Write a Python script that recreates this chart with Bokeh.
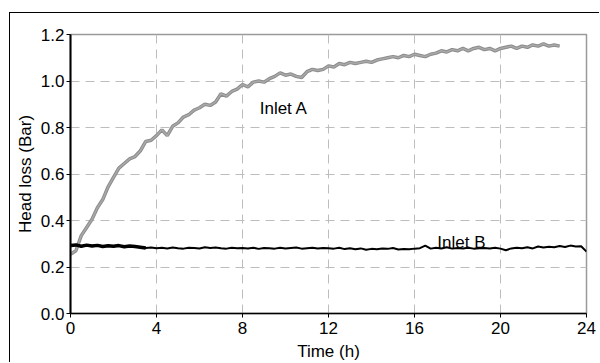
import numpy as np
from bokeh.plotting import figure
from bokeh.models import Range1d, Label, FixedTicker, NumeralTickFormatter, ColumnDataSource
from bokeh.embed import file_html
from bokeh.resources import INLINE

# ---- data ----
step_h = 0.25
inlet_a = [
    0.255, 0.270, 0.335, 0.370, 0.405, 0.455, 0.490, 0.545,
    0.585, 0.625, 0.645, 0.665, 0.675, 0.700, 0.740, 0.745,
    0.765, 0.790, 0.765, 0.805, 0.820, 0.845, 0.855, 0.875,
    0.885, 0.900, 0.895, 0.910, 0.945, 0.935, 0.955, 0.965,
    0.985, 0.975, 0.995, 1.000, 0.995, 1.010, 1.020, 1.035,
    1.025, 1.030, 1.020, 1.015, 1.040, 1.050, 1.045, 1.050,
    1.065, 1.060, 1.075, 1.070, 1.080, 1.075, 1.080, 1.085,
    1.080, 1.090, 1.095, 1.100, 1.105, 1.100, 1.110, 1.105,
    1.115, 1.110, 1.105, 1.115, 1.120, 1.130, 1.125, 1.135,
    1.130, 1.140, 1.130, 1.140, 1.145, 1.135, 1.140, 1.130,
    1.140, 1.145, 1.150, 1.140, 1.150, 1.145, 1.155, 1.150,
    1.160, 1.150, 1.155, 1.150,
]
inlet_b = [
    0.292, 0.295, 0.289, 0.294, 0.290, 0.293, 0.288, 0.291,
    0.289, 0.292, 0.287, 0.290, 0.288, 0.285, 0.282, 0.284, 0.281,
    0.283, 0.280, 0.284, 0.281, 0.279, 0.283, 0.282, 0.280,
    0.285, 0.282, 0.284, 0.281, 0.279, 0.283, 0.281, 0.282,
    0.280, 0.283, 0.278, 0.282, 0.281, 0.279, 0.283, 0.280,
    0.282, 0.284, 0.279, 0.281, 0.283, 0.280, 0.282, 0.281,
    0.279, 0.283, 0.277, 0.281, 0.276, 0.280, 0.274, 0.278,
    0.276, 0.280, 0.278, 0.282, 0.275, 0.277, 0.276, 0.279,
    0.281, 0.292, 0.279, 0.283, 0.280, 0.285, 0.279, 0.282,
    0.280, 0.283, 0.279, 0.281, 0.282, 0.280, 0.283, 0.279,
    0.272, 0.280, 0.283, 0.281, 0.285, 0.280, 0.288, 0.284,
    0.287, 0.285, 0.290, 0.286, 0.292, 0.288, 0.289, 0.266,
]
time_a = np.arange(len(inlet_a)) * step_h
time_b = np.arange(len(inlet_b)) * step_h

x_ticks = [0, 4, 8, 12, 16, 20, 24]
y_ticks = [0.0, 0.2, 0.4, 0.6, 0.8, 1.0, 1.2]
label_a = ("Inlet A", 8.8, 0.88)
label_b = ("Inlet B", 17.06, 0.305)

FONT = "Liberation Sans"

p = figure(
    width=590, height=350,
    output_backend="svg", toolbar_location=None,
    x_range=Range1d(0, 24), y_range=Range1d(0, 1.2),
    min_border_left=60, min_border_top=21, min_border_right=14, min_border_bottom=48,
    styles={"margin-left": "9px", "margin-top": "12px",
            "border-left": "1px solid black", "border-top": "1px solid black"},
)
p.background_fill_color = "white"
p.border_fill_color = "white"
p.outline_line_color = "#9a9a9a"
p.outline_line_width = 1.5

for g in (p.xgrid, p.ygrid):
    g.grid_line_color = "#bdbdbd"
    g.grid_line_dash = "9 6"
    g.grid_line_width = 1

p.xaxis.ticker = FixedTicker(ticks=x_ticks)
p.yaxis.ticker = FixedTicker(ticks=y_ticks)
p.yaxis.formatter = NumeralTickFormatter(format="0.0")
p.xaxis.axis_label = "Time (h)"
p.yaxis.axis_label = "Head loss (Bar)"

for ax in (p.xaxis, p.yaxis):
    ax.axis_line_color = "black"
    ax.major_tick_line_color = "black"
    ax.major_tick_in = 0
    ax.major_tick_out = 4
    ax.minor_tick_line_color = None
    ax.major_label_text_font = FONT
    ax.major_label_text_font_size = "17px"
    ax.major_label_text_color = "black"
    ax.axis_label_text_font = FONT
    ax.axis_label_text_font_size = "17px"
    ax.axis_label_text_font_style = "normal"
    ax.axis_label_text_color = "black"
p.yaxis.axis_line_width = 2
p.xaxis.axis_line_width = 1.5
p.yaxis.major_label_standoff = 2
p.xaxis.major_label_standoff = 4
p.yaxis.axis_label_standoff = 3
p.xaxis.axis_label_standoff = 5

src_a = ColumnDataSource(dict(t=time_a, v=inlet_a))
src_b = ColumnDataSource(dict(t=time_b, v=inlet_b))
src_b0 = ColumnDataSource(dict(t=time_b[:15], v=inlet_b[:15]))

p.line("t", "v", source=src_a, line_color="#8c8c8c", line_width=3.5)
p.line("t", "v", source=src_a, line_color="#a9a9a9", line_width=1.5)
p.line("t", "v", source=src_b0, line_color="black", line_width=3.5)
p.line("t", "v", source=src_b, line_color="black", line_width=2)

for txt, lx, ly in (label_a, label_b):
    p.add_layout(Label(x=lx, y=ly, text=txt, text_font=FONT, text_font_size="17px",
                       text_color="black", text_align="left", text_baseline="alphabetic"))

open("out.html", "w").write(file_html(p, INLINE))
